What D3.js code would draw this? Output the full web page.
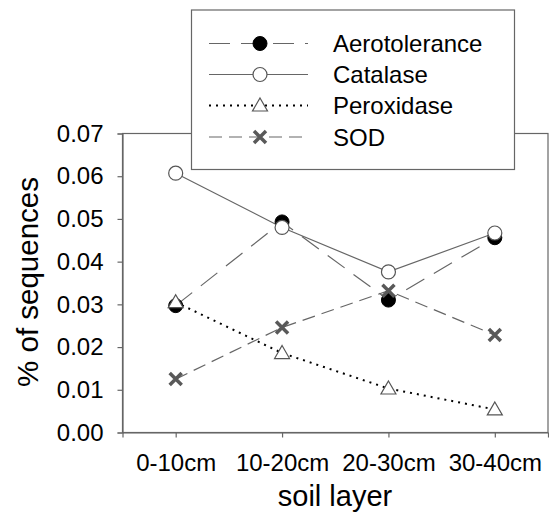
<!DOCTYPE html>
<html><head><meta charset="utf-8">
<script src="https://cdn.jsdelivr.net/npm/d3@7"></script>
<style>body{margin:0;background:#fff}svg{display:block}text{font-family:"Liberation Sans",Arial,sans-serif;fill:#000}</style>
</head><body>
<script>
const categories = ["0-10cm","10-20cm","20-30cm","30-40cm"];
const aerotolerance = [0.0297,0.0493,0.0310,0.0456];
const catalase = [0.0607,0.0480,0.0376,0.0467];
const peroxidase = [0.0305,0.0186,0.0103,0.0054];
const sod = [0.0125,0.0246,0.0332,0.0228];
const yTicks = [0,0.01,0.02,0.03,0.04,0.05,0.06,0.07];
const seriesNames = ["Aerotolerance","Catalase","Peroxidase","SOD"];

const W=549,H=518;
const svg=d3.select("body").append("svg").attr("width",W).attr("height",H);
const L=122.5,R=548,T=133.5,B=432.5;
const x=d3.scalePoint().domain(categories).range([L,R]).padding(0.5);
const y=d3.scaleLinear().domain([0,0.07]).range([B,T]);
const gray="#666";

// frame
svg.append("rect").attr("x",L).attr("y",T).attr("width",R-L).attr("height",B-T)
  .attr("fill","none").attr("stroke",gray).attr("stroke-width",1.2);

const ya=svg.append("g").attr("transform",`translate(${L},0)`)
  .call(d3.axisLeft(y).tickValues(yTicks).tickFormat(d3.format(".2f")).tickSize(5).tickPadding(14));
const xa=svg.append("g").attr("transform",`translate(0,${B})`)
  .call(d3.axisBottom(x).tickSize(5).tickPadding(16));
[ya,xa].forEach(g=>{
  g.select(".domain").attr("stroke",gray).attr("stroke-width",1.2);
  g.selectAll(".tick line").attr("stroke",gray).attr("stroke-width",1.2);
  g.selectAll(".tick text").attr("font-size",24).attr("font-family","Liberation Sans, Arial, sans-serif").attr("fill","#000");
});

svg.append("text").attr("transform",`translate(38,282) rotate(-90)`).attr("text-anchor","middle")
  .attr("font-size",29.5).text("% of sequences");
svg.append("text").attr("x",335).attr("y",506).attr("text-anchor","middle")
  .attr("font-size",29).text("soil layer");

const styles={
  Aerotolerance:{data:aerotolerance,stroke:gray,dash:"21,11",width:1.2},
  Catalase:{data:catalase,stroke:gray,dash:null,width:1.2},
  Peroxidase:{data:peroxidase,stroke:"#000",dash:"2,5",width:2},
  SOD:{data:sod,stroke:gray,dash:"13,7",width:1.2}
};
function marker(g,name,cx,cy){
  if(name==="Aerotolerance") g.append("circle").attr("cx",cx).attr("cy",cy).attr("r",7).attr("fill","#000").attr("stroke","#000");
  else if(name==="Catalase") g.append("circle").attr("cx",cx).attr("cy",cy).attr("r",7).attr("fill","#fff").attr("stroke","#555").attr("stroke-width",1.2);
  else if(name==="Peroxidase") g.append("path").attr("d",`M${cx},${cy-7.5}L${cx+7.5},${cy+5.5}L${cx-7.5},${cy+5.5}Z`).attr("fill","#fff").attr("stroke","#555").attr("stroke-width",1.2);
  else { const s=6; g.append("path").attr("d",`M${cx-s},${cy-s}L${cx+s},${cy+s}M${cx-s},${cy+s}L${cx+s},${cy-s}`).attr("stroke","#595959").attr("stroke-width",3.5).attr("fill","none"); }
}
const line=d3.line().x((d,i)=>x(categories[i])).y(d=>y(d));
seriesNames.forEach(n=>{
  const s=styles[n];
  svg.append("path").datum(s.data).attr("d",line).attr("fill","none").attr("stroke",s.stroke)
    .attr("stroke-width",s.width).attr("stroke-dasharray",s.dash);
});
seriesNames.forEach(n=>{
  const g=svg.append("g");
  styles[n].data.forEach((v,i)=>marker(g,n,x(categories[i]),y(v)));
});

// legend
const lg=svg.append("g");
lg.append("rect").attr("x",191.5).attr("y",10).attr("width",323).attr("height",159.5)
  .attr("fill","#fff").attr("stroke",gray).attr("stroke-width",1.2);
const rowY=[43.5,74.5,105.5,137];
seriesNames.forEach((n,i)=>{
  const s=styles[n], yy=rowY[i];
  lg.append("line").attr("x1",209).attr("x2",308).attr("y1",yy).attr("y2",yy)
    .attr("stroke",s.stroke).attr("stroke-width",s.width).attr("stroke-dasharray",s.dash);
  marker(lg,n,260,yy);
  lg.append("text").attr("x",333).attr("y",yy+8.5).attr("font-size",24).text(n);
});
</script>
</body></html>
